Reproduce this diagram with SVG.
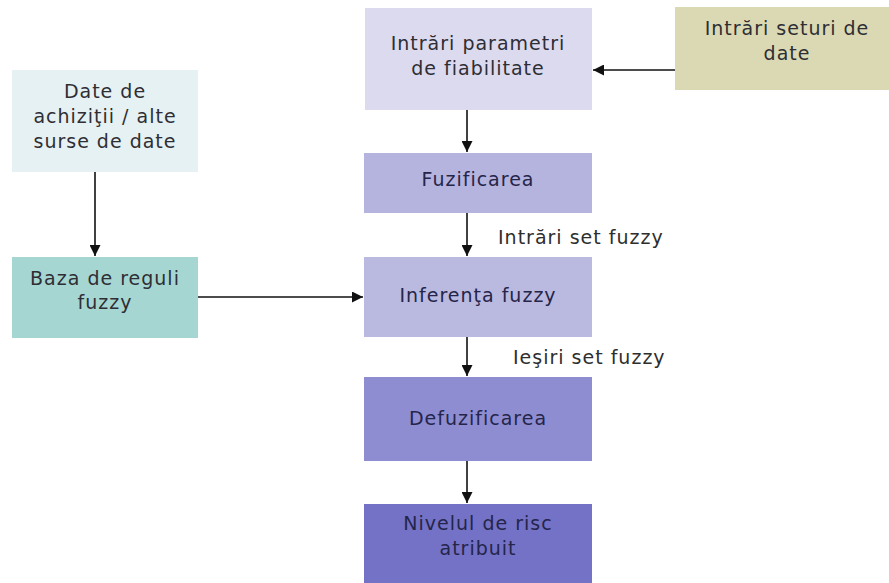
<svg xmlns="http://www.w3.org/2000/svg" width="889" height="583" viewBox="0 0 889 583">
  <style>
    .box { stroke: none; }
    .lbl { font-family: "DejaVu Sans", Verdana, sans-serif; font-size: 19px; letter-spacing: 1px; fill: #2e2e34; text-anchor: middle; }
    .dark { fill: #25254a; }
    .side { text-anchor: start; fill: #2e2e2e; }
    .conn { stroke: #111; stroke-width: 1.6; fill: none; marker-end: url(#arr); }
  </style>
  <defs>
    <marker id="arr" viewBox="0 0 10 10" refX="10" refY="5" markerWidth="11" markerHeight="11" markerUnits="userSpaceOnUse" orient="auto">
      <path d="M0,0 L10,5 L0,10 z" fill="#111"/>
    </marker>
  </defs>
  <rect width="889" height="583" fill="#ffffff"/>

  <g id="n-intrari-parametri">
    <rect class="box" x="365" y="8" width="227" height="102" fill="#dcdaef"/>
    <text class="lbl" x="478" y="50">Intrări parametri</text>
    <text class="lbl" x="478" y="75">de fiabilitate</text>
  </g>
  <g id="n-intrari-seturi">
    <rect class="box" x="675" y="7" width="214" height="83" fill="#dad9b3"/>
    <text class="lbl" x="787" y="35">Intrări seturi de</text>
    <text class="lbl" x="787" y="60">date</text>
  </g>
  <g id="n-date-achizitii">
    <rect class="box" x="12" y="70" width="186" height="102" fill="#e6f1f3"/>
    <text class="lbl" x="105" y="98">Date de</text>
    <text class="lbl" x="105" y="123">achiziţii / alte</text>
    <text class="lbl" x="105" y="148">surse de date</text>
  </g>
  <g id="n-baza-reguli">
    <rect class="box" x="12" y="257" width="186" height="81" fill="#a6d6d2"/>
    <text class="lbl" x="105" y="285">Baza de reguli</text>
    <text class="lbl" x="105" y="309">fuzzy</text>
  </g>
  <g id="n-fuzificarea">
    <rect class="box" x="364" y="153" width="228" height="60" fill="#b5b4de"/>
    <text class="lbl dark" x="478" y="186">Fuzificarea</text>
  </g>
  <g id="n-inferenta">
    <rect class="box" x="364" y="257" width="228" height="80" fill="#bab9e0"/>
    <text class="lbl dark" x="478" y="302">Inferenţa fuzzy</text>
  </g>
  <g id="n-defuzificarea">
    <rect class="box" x="364" y="377" width="228" height="84" fill="#8e8dd2"/>
    <text class="lbl dark" x="478" y="425">Defuzificarea</text>
  </g>
  <g id="n-nivelul-risc">
    <rect class="box" x="364" y="504" width="228" height="79" fill="#7372c6"/>
    <text class="lbl dark" x="478" y="530">Nivelul de risc</text>
    <text class="lbl dark" x="478" y="555">atribuit</text>
  </g>

  <g id="connectors">
    <line class="conn" x1="675" y1="70" x2="593" y2="70"/>
    <line class="conn" x1="467" y1="110" x2="467" y2="152"/>
    <line class="conn" x1="467" y1="213" x2="467" y2="256"/>
    <line class="conn" x1="467" y1="337" x2="467" y2="376"/>
    <line class="conn" x1="467" y1="461" x2="467" y2="503"/>
    <line class="conn" x1="95" y1="172" x2="95" y2="256"/>
    <line class="conn" x1="198" y1="297" x2="363" y2="297"/>
    <text class="lbl side" x="498" y="244">Intrări set fuzzy</text>
    <text class="lbl side" x="513" y="364">Ieşiri set fuzzy</text>
  </g>
</svg>
